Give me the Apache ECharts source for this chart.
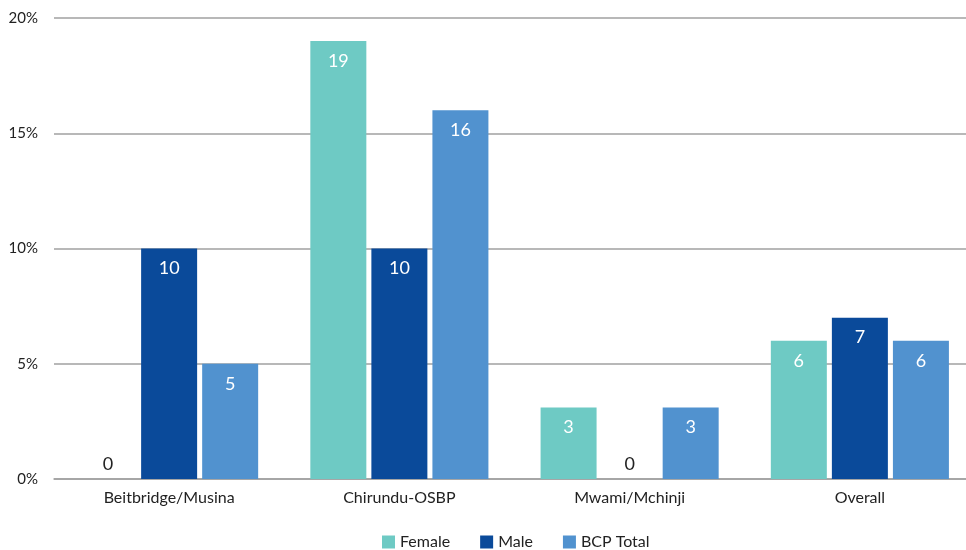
<!DOCTYPE html>
<html><head><meta charset="utf-8">
<script src="https://cdn.jsdelivr.net/npm/echarts@6/dist/echarts.min.js"></script>
<style>html,body{margin:0;padding:0;background:#fff}#c{width:966px;height:550px}</style>
</head><body><div id="c"></div>
<script>
const categories = ['Beitbridge/Musina', 'Chirundu-OSBP', 'Mwami/Mchinji', 'Overall'];
const female = [0, 19, 3.1, 6];
const male = [10, 10, 0, 7];
const bcpTotal = [5, 16, 3.1, 6];
const yTicks = [0, 5, 10, 15, 20];

const FONT = 'Lato';
function mk(name, data, color) {
  return {
    name, type: 'bar', barWidth: 56, barGap: '9%',
    itemStyle: { color },
    label: { show: true, position: 'insideTop', distance: 11, color: '#fff', fontSize: 18, fontFamily: FONT,
      formatter: p => Math.round(p.value) },
    data: data.map(v => v === 0 ? { value: v, label: { position: 'top', color: '#222', distance: 6 } } : v)
  };
}
const chart = echarts.init(document.getElementById('c'));
chart.setOption({
  animation: false,
  textStyle: { fontFamily: FONT },
  grid: { left: 54, width: 921, top: 18, bottom: 71, outerBoundsMode: 'none', containLabel: false },
  legend: { bottom: -5, left: 377, itemWidth: 13, itemHeight: 13, itemGap: 30, icon: 'rect',
    textStyle: { fontSize: 16, color: '#222', fontFamily: FONT } },
  xAxis: { type: 'category', data: categories,
    axisLine: { lineStyle: { color: '#a0a0a0', width: 1.5 } }, axisTick: { show: false },
    axisLabel: { fontSize: 16, color: '#222', margin: 11, fontFamily: FONT } },
  yAxis: { type: 'value', min: yTicks[0], max: yTicks[yTicks.length - 1], interval: 5,
    axisLine: { show: false }, axisTick: { show: false },
    splitLine: { lineStyle: { color: '#a0a0a0', width: 1.5 } },
    axisLabel: { fontSize: 15, color: '#222', margin: 16, formatter: v => v + '%', fontFamily: FONT } },
  series: [mk('Female', female, '#6ECAC4'), mk('Male', male, '#0A4A9A'), mk('BCP Total', bcpTotal, '#5192CF')]
});
</script></body></html>
